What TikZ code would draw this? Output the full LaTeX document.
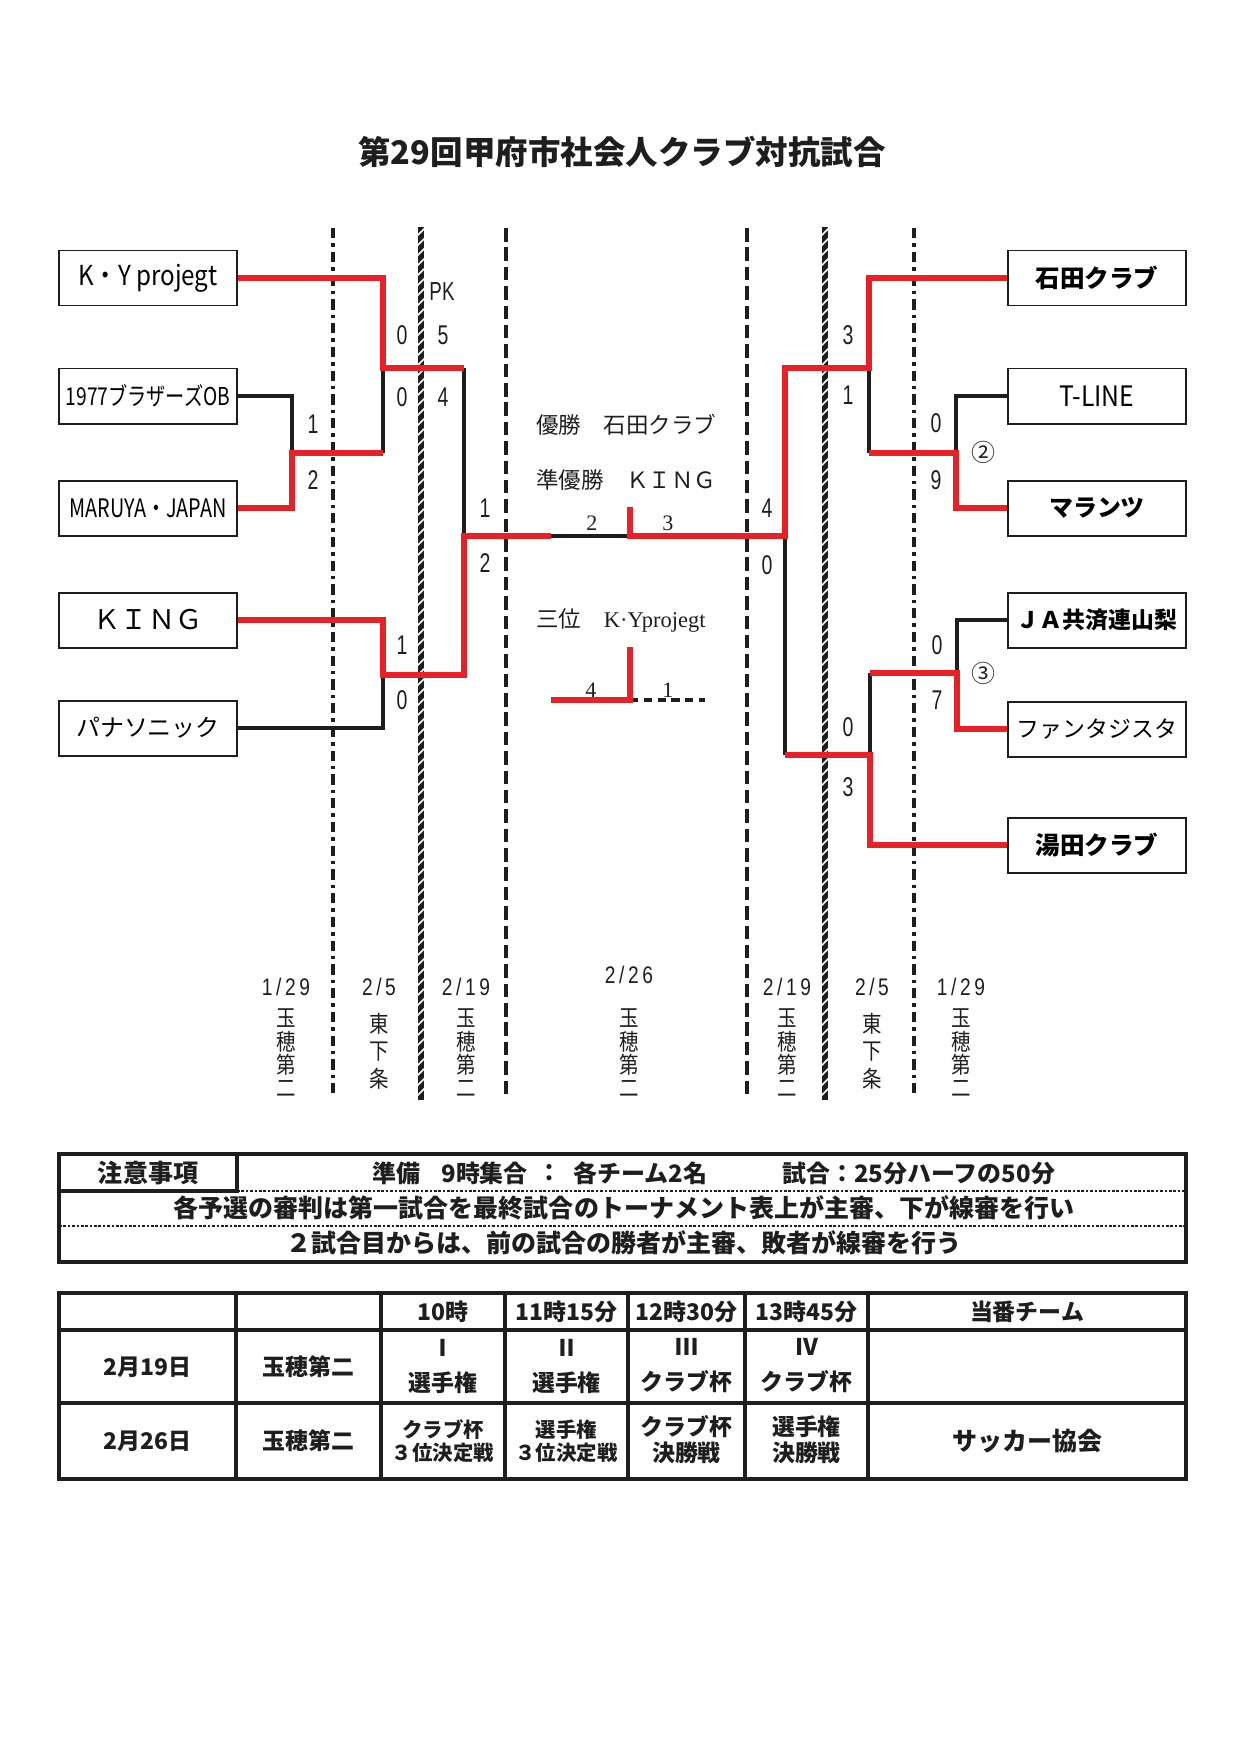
\documentclass[tikz,border=0pt]{standalone}
\usepackage{fontspec}
\newfontfamily\jp{Noto Sans CJK JP}
\newfontfamily\jpc[FakeStretch=0.78]{Noto Sans CJK JP}
\newfontfamily\jpd[FakeStretch=0.88]{Noto Sans CJK JP}
\newfontfamily\jpv[FakeStretch=0.85]{Noto Sans CJK JP}
\newfontfamily\scf[FakeStretch=0.72]{Liberation Sans}
\newfontfamily\datef[FakeStretch=0.8,LetterSpace=15]{Liberation Sans}
\newfontfamily\serf{Liberation Serif}
\newcommand{\fsz}[1]{\fontsize{#1}{#1}\selectfont}
\definecolor{bred}{RGB}{232,32,40}
\definecolor{bk}{RGB}{30,30,30}
\tikzset{
  redl/.style={draw=bred, line width=2.6pt},
  blkl/.style={draw=bk, line width=1.8pt},
  dashdotl/.style={draw=bk, line width=2.3pt, dash pattern=on 5pt off 2.4pt on 1.6pt off 2.4pt},
  dashedl/.style={draw=bk, line width=2.3pt, dash pattern=on 6.5pt off 2.8pt},
  hatchl/.style={draw=bk, line width=2.6pt},
  teambox/.style={draw=bk, line width=0.95pt, minimum width=85.44pt, minimum height=26.4pt, inner sep=0pt},
  score/.style={font=\scf\fsz{13}, inner sep=0pt, text=bk},
  cscore/.style={font=\serf\fsz{10.6}, inner sep=0pt, text=bk},
  result/.style={font=\jp\fsz{10.8}, inner sep=0pt, anchor=west, text=bk},
  datel/.style={font=\datef\fsz{11.5}, inner sep=0pt, text=bk},
  vkanji/.style={font=\jpv\fsz{11}, inner sep=0pt, align=center, text=bk},
  tbl/.style={font=\jp\bfseries\fsz{11.5}, inner sep=0pt, text=bk},
  tbl2/.style={font=\jp\bfseries\fsz{11}, inner sep=0pt, align=center, text=bk},
  tbls/.style={font=\jp\bfseries\fontsize{9.8}{11}\selectfont, inner sep=0pt, align=center, text=bk},
  tblm/.style={font=\jp\bfseries\fontsize{11}{12.5}\selectfont, inner sep=0pt, align=center, text=bk},
}
\begin{document}
\begin{tikzpicture}[x=0.48pt,y=-0.48pt]
\useasboundingbox (0,0) rectangle (1240,1754);

% title
\node[font=\jp\bfseries\fsz{15.6}, text=bk] (title) at (622,152) {第29回甲府市社会人クラブ対抗試合};

% round dividers
\foreach \xx in {333,914} \draw[dashdotl] (\xx,228) -- (\xx,1098);
\foreach \xx in {506,747} \draw[dashedl] (\xx,228) -- (\xx,1098);
\foreach \xx in {421,825} {
  \draw[hatchl] (\xx,227) -- (\xx,1100);
  \foreach \yy in {232,242,...,1096} \draw[white,line width=0.75pt] (\xx-4,\yy+4) -- (\xx+4,\yy-4);
}

% team boxes
\node[teambox, font=\jpd\fsz{13.2}] (ky) at (148,278) {K・Y projegt};
\node[teambox, font=\jpc\fsz{11.8}] (b77) at (148,396) {1977ブラザーズOB};
\node[teambox, font=\jpc\fsz{12.2}] (mar) at (148,508) {MARUYA・JAPAN};
\node[teambox, font=\jp\fsz{13}] (king) at (148,620) {ＫＩＮＧ};
\node[teambox, font=\jp\fsz{11.5}] (pan) at (148,728) {パナソニック};
\node[teambox, font=\jp\bfseries\fsz{11.8}] (ishi) at (1097,278) {石田クラブ};
\node[teambox, font=\jpd\fsz{13.5}] (tline) at (1097,396) {T-LINE};
\node[teambox, font=\jp\bfseries\fsz{11.5}] (mara) at (1097,508) {マランツ};
\node[teambox, font=\jp\bfseries\fsz{11}] (ja) at (1097,620) {ＪＡ共済連山梨};
\node[teambox, font=\jp\fsz{11}] (fan) at (1097,729) {ファンタジスタ};
\node[teambox, font=\jp\bfseries\fsz{11.8}] (yuda) at (1097,845) {湯田クラブ};

% joints
\coordinate (L1) at (292,453);
\coordinate (L2) at (383,453);
\coordinate (L3) at (383,368);
\coordinate (L4) at (464,368);
\coordinate (L5) at (464,536);
\coordinate (L6) at (383,675);
\coordinate (F1) at (551,536);
\coordinate (F2) at (630,536);
\coordinate (F0) at (630,507);
\coordinate (R1) at (956,453);
\coordinate (R2) at (869,453);
\coordinate (R3) at (869,368);
\coordinate (R5) at (785,536);
\coordinate (R6) at (785,755);
\coordinate (R7) at (870,755);
\coordinate (R8) at (870,673);
\coordinate (R9) at (957,673);
\coordinate (T1) at (551,700);
\coordinate (T2) at (630,700);
\coordinate (T0) at (630,647);
\coordinate (T3) at (705,700);

% black connectors
\draw[blkl] (b77.east) -| (L1);
\draw[blkl] (L3) -- (L2);
\draw[blkl] (L4) -- (L5);
\draw[blkl] (pan.east) -| (L6);
\draw[blkl] (F1) -- (F2);
\draw[blkl] (tline.west) -| (R1);
\draw[blkl] (R2) -- (R3);
\draw[blkl] (R5) -- (R6);
\draw[blkl] (R7) -- (R8);
\draw[blkl] (ja.west) -| (R9);
\draw[blkl, dash pattern=on 4pt off 2.6pt] (T2) -- (T3);

% red connectors
\draw[redl] (mar.east) -| (L1) -- (L2);
\draw[redl] (ky.east) -| (L3) -- (L4);
\draw[redl] (king.east) -| (L6) -| (L5) -- (F1);
\draw[redl] (ishi.west) -| (R3) -| (R5) -- (F2) -- (F0);
\draw[redl] (mara.west) -| (R1) -- (R2);
\draw[redl] (R6) -- (R7) |- (yuda.west);
\draw[redl] (fan.west) -| (R9) -- (R8);
\draw[redl] (T1) -- (T2) -- (T0);

% scores left
\node[score] (s1) at (313,424) {1};
\node[score] (s2) at (313,480) {2};
\node[score, font=\scf\fsz{12.5}] (pk) at (442,292) {PK};
\node[score] (s3) at (402,335) {0};
\node[score] (s4) at (443,335) {5};
\node[score] (s5) at (402,397) {0};
\node[score] (s6) at (443,397) {4};
\node[score] (s7) at (485,508) {1};
\node[score] (s8) at (485,563) {2};
\node[score] (s9) at (402,645) {1};
\node[score] (s10) at (402,700) {0};
% scores right
\node[score] (s11) at (848,335) {3};
\node[score] (s12) at (848,395) {1};
\node[score] (s13) at (936,423) {0};
\node[score] (s14) at (936,480) {9};
\node[font=\jp\fsz{11.5}, inner sep=0pt, text=bk] (c2) at (983,452) {②};
\node[score] (s15) at (767,508) {4};
\node[score] (s16) at (767,565) {0};
\node[score] (s17) at (937,645) {0};
\node[score] (s18) at (937,700) {7};
\node[font=\jp\fsz{11.5}, inner sep=0pt, text=bk] (c3) at (983,673) {③};
\node[score] (s19) at (848,727) {0};
\node[score] (s20) at (848,787) {3};
% center
\node[cscore] (f1) at (592,523) {2};
\node[cscore] (f2) at (668,523) {3};
\node[cscore] (t1) at (591,690) {4};
\node[cscore] (t2) at (668,690) {1};
\node[result] (win) at (536,425) {優勝　石田クラブ};
\node[result] (second) at (536,480) {準優勝　ＫＩＮＧ};
\node[result] (third) at (536,620) {三位　{\serf K·Yprojegt}};

% dates and venues
\node[datel] (d1) at (286,987) {1/29};
\node[datel] (d2) at (379,987) {2/5};
\node[datel] (d3) at (466,987) {2/19};
\node[datel] (d4) at (629,975) {2/26};
\node[datel] (d5) at (787,987) {2/19};
\node[datel] (d6) at (872,987) {2/5};
\node[datel] (d7) at (961,987) {1/29};
\node[vkanji, font=\jpv\fontsize{11}{11.2}\selectfont] (v1) at (286,1053) {玉\\穂\\第\\二};
\node[vkanji, font=\jpv\fontsize{11}{13.3}\selectfont] (v2) at (379,1051) {東\\下\\条};
\node[vkanji, font=\jpv\fontsize{11}{11.2}\selectfont] (v3) at (466,1053) {玉\\穂\\第\\二};
\node[vkanji, font=\jpv\fontsize{11}{11.2}\selectfont] (v4) at (629,1053) {玉\\穂\\第\\二};
\node[vkanji, font=\jpv\fontsize{11}{11.2}\selectfont] (v5) at (787,1053) {玉\\穂\\第\\二};
\node[vkanji, font=\jpv\fontsize{11}{13.3}\selectfont] (v6) at (872,1051) {東\\下\\条};
\node[vkanji, font=\jpv\fontsize{11}{11.2}\selectfont] (v7) at (961,1053) {玉\\穂\\第\\二};

% notes table
\draw[bk, line width=2pt] (59,1154) rectangle (1186,1262);
\draw[bk, line width=2pt] (59,1154) rectangle (237,1191);
\draw[bk, line width=0.8pt, dash pattern=on 1.3pt off 0.8pt] (237,1191) -- (1186,1191);
\draw[bk, line width=0.8pt, dash pattern=on 1.3pt off 0.8pt] (59,1226) -- (1186,1226);
\node[tbl, font=\jp\bfseries\fsz{12}] (n0) at (148,1173) {注意事項};
\node[tbl, anchor=west] (n1) at (372,1173) {準備};
\node[tbl, anchor=west] (n2) at (441,1173) {9時集合};
\node[tbl] (n3) at (549,1173) {：};
\node[tbl, anchor=west] (n4) at (573,1173) {各チーム2名};
\node[tbl, anchor=west] (n5) at (782,1173) {試合：25分ハーフの50分};
\node[tbl, font=\jp\bfseries\fsz{12}] (n6) at (624,1208) {各予選の審判は第一試合を最終試合のトーナメント表上が主審、下が線審を行い};
\node[tbl, font=\jp\bfseries\fsz{12}] (n7) at (624,1243) {２試合目からは、前の試合の勝者が主審、敗者が線審を行う};

% schedule table
\draw[bk, line width=2pt] (59,1293) rectangle (1186,1479);
\draw[bk, line width=2pt] (59,1330) -- (1186,1330);
\draw[bk, line width=2pt] (59,1403) -- (1186,1403);
\foreach \xx in {236,381,505,628,745,868} \draw[bk, line width=1.5pt] (\xx,1293) -- (\xx,1479);
\node[tbl2] (h1) at (443,1312) {10時};
\node[tbl2] (h2) at (566.5,1312) {11時15分};
\node[tbl2] (h3) at (686.5,1312) {12時30分};
\node[tbl2] (h4) at (806.5,1312) {13時45分};
\node[tbl2] (h5) at (1027,1312) {当番チーム};
\node[tbl2] (r1a) at (147.5,1367) {2月19日};
\node[tbl2] (r1b) at (308.5,1367) {玉穂第二};
\node[tbl2, font=\jp\bfseries\fontsize{11}{16.8}\selectfont] (r1c) at (443,1366) {Ⅰ\\選手権};
\node[tbl2, font=\jp\bfseries\fontsize{11}{16.8}\selectfont] (r1d) at (566.5,1366) {Ⅱ\\選手権};
\node[tbl2, font=\jp\bfseries\fontsize{11}{16.8}\selectfont] (r1e) at (686.5,1366) {Ⅲ\\クラブ杯};
\node[tbl2, font=\jp\bfseries\fontsize{11}{16.8}\selectfont] (r1f) at (806.5,1366) {Ⅳ\\クラブ杯};
\node[tbl2] (r2a) at (147.5,1441) {2月26日};
\node[tbl2] (r2b) at (308.5,1441) {玉穂第二};
\node[tbls] (r2c) at (443,1441) {クラブ杯\\３位決定戦};
\node[tbls] (r2d) at (566.5,1441) {選手権\\３位決定戦};
\node[tblm] (r2e) at (686.5,1440) {クラブ杯\\決勝戦};
\node[tblm] (r2f) at (806.5,1440) {選手権\\決勝戦};
\node[tbl2, font=\jp\bfseries\fsz{12}] (r2g) at (1027,1441) {サッカー協会};
\end{tikzpicture}
\end{document}
